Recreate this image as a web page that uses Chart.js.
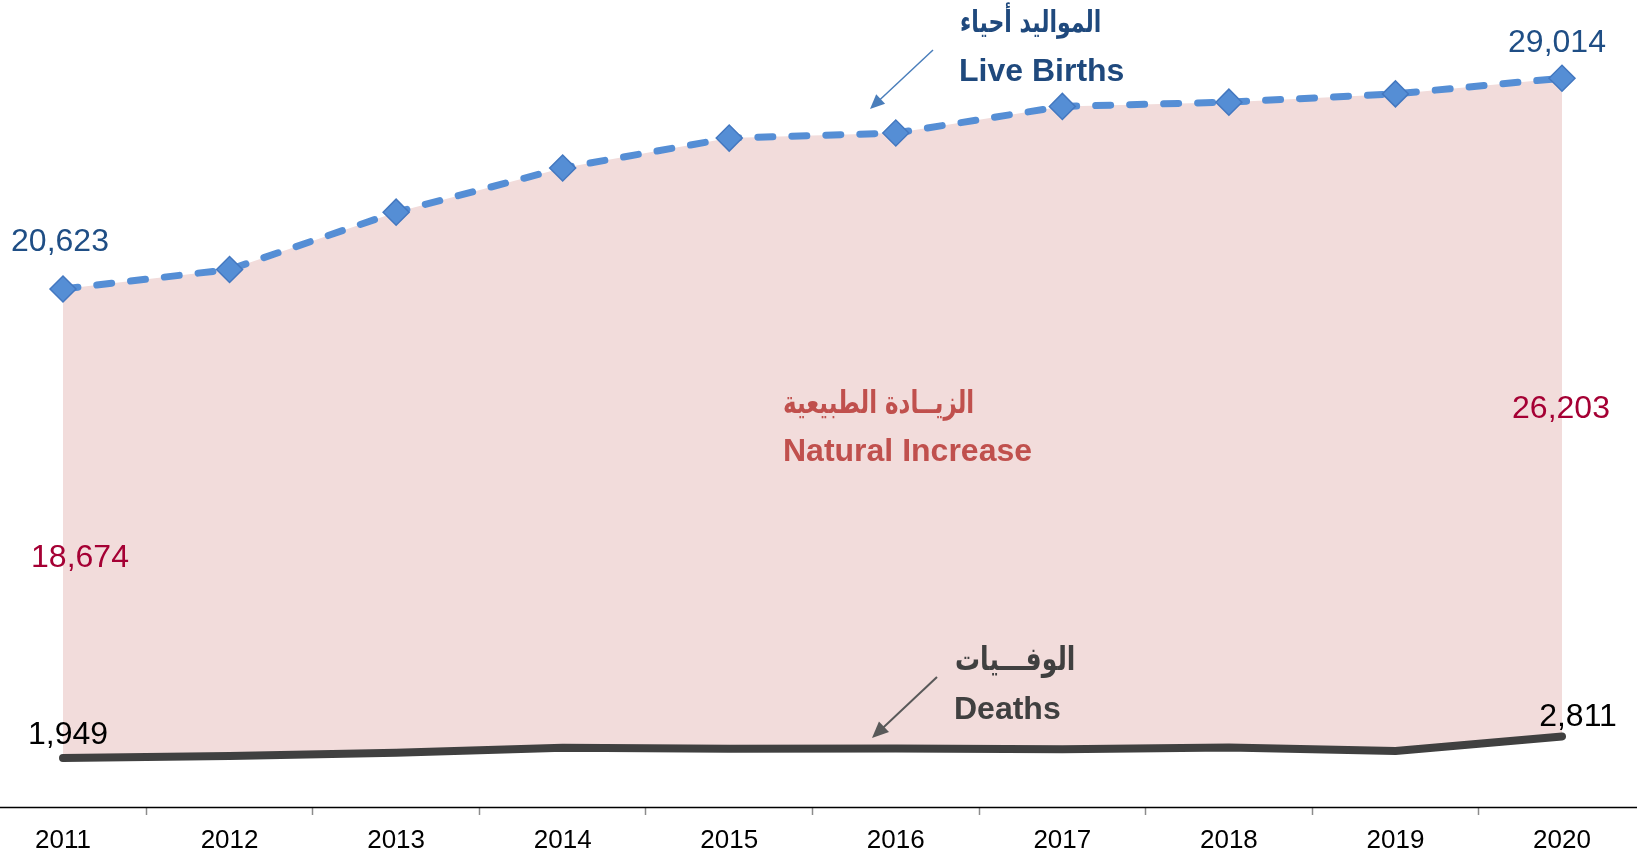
<!DOCTYPE html>
<html lang="ar">
<head>
<meta charset="UTF-8">
<title>Live Births, Deaths and Natural Increase 2011-2020</title>
<script src="https://cdn.jsdelivr.net/npm/chart.js"></script>
<style>
  html, body { margin: 0; padding: 0; background: #fff; }
  .chart-box { width: 1637px; height: 857px; position: relative; }
</style>
</head>
<body>
<div class="chart-box"><canvas id="birthsChart"></canvas></div>
<script>
const years = ['2011', '2012', '2013', '2014', '2015', '2016', '2017', '2018', '2019', '2020'];
const liveBirths = [20623, 21400, 23680, 25440, 26630, 26830, 27890, 28060, 28390, 29014];
const deaths = [1949, 2030, 2160, 2360, 2320, 2330, 2300, 2370, 2230, 2811];

const LATIN = '"Liberation Sans", Arial, sans-serif';
const ARABIC = '"DejaVu Sans", "Noto Sans", sans-serif';

const fmt = n => n.toLocaleString('en-US');

// arabic text: fit to the source width, then stretch a bit in height
function arabicText(ctx, text, x, y, width, weight, stretch) {
  ctx.font = weight + ' 30px ' + ARABIC;
  const w = ctx.measureText(text).width;
  const size = Math.max(10, Math.round(30 * width / w));
  ctx.font = weight + ' ' + size + 'px ' + ARABIC;
  ctx.save();
  ctx.translate(x, y);
  ctx.scale(1, stretch);
  ctx.fillText(text, 0, 0);
  ctx.restore();
}

function arrow(ctx, x1, y1, x2, y2, color, lw, head) {
  const a = Math.atan2(y2 - y1, x2 - x1);
  ctx.save();
  ctx.strokeStyle = color;
  ctx.fillStyle = color;
  ctx.lineWidth = lw;
  ctx.beginPath();
  ctx.moveTo(x1, y1);
  ctx.lineTo(x2 - Math.cos(a) * head * 0.8, y2 - Math.sin(a) * head * 0.8);
  ctx.stroke();
  ctx.beginPath();
  ctx.moveTo(x2, y2);
  ctx.lineTo(x2 - head * Math.cos(a - 0.42), y2 - head * Math.sin(a - 0.42));
  ctx.lineTo(x2 - head * Math.cos(a + 0.42), y2 - head * Math.sin(a + 0.42));
  ctx.closePath();
  ctx.fill();
  ctx.restore();
}

// full-width baseline under the plot
const baseLine = {
  id: 'baseLine',
  afterDatasetsDraw(chart) {
    const { ctx, chartArea } = chart;
    ctx.save();
    ctx.strokeStyle = '#000';
    ctx.lineWidth = 1.5;
    ctx.beginPath();
    ctx.moveTo(0, chartArea.bottom + 0.5);
    ctx.lineTo(chart.width, chartArea.bottom + 0.5);
    ctx.stroke();
    ctx.restore();
  }
};

const annotations = {
  id: 'annotations',
  afterDraw(chart) {
    const { ctx } = chart;
    const x = chart.scales.x, y = chart.scales.y;
    const last = years.length - 1;
    const x0 = x.getPixelForValue(0), xN = x.getPixelForValue(last);
    const b0 = y.getPixelForValue(liveBirths[0]), bN = y.getPixelForValue(liveBirths[last]);
    const d0 = y.getPixelForValue(deaths[0]), dN = y.getPixelForValue(deaths[last]);

    ctx.save();
    ctx.textBaseline = 'middle';
    ctx.textAlign = 'center';

    // value labels
    ctx.font = '32px ' + LATIN;
    ctx.fillStyle = '#1f4e85';
    ctx.fillText(fmt(liveBirths[0]), x0 - 3, b0 - 47);
    ctx.fillText(fmt(liveBirths[last]), xN - 5, bN - 35);
    ctx.fillStyle = '#000';
    ctx.fillText(fmt(deaths[0]), x0 + 5, d0 - 23);
    ctx.fillText(fmt(deaths[last]), xN + 16, dN - 19);
    ctx.fillStyle = '#a50034';
    ctx.fillText(fmt(liveBirths[0] - deaths[0]), x0 + 17, (b0 + d0) / 2 + 35);
    ctx.fillText(fmt(liveBirths[last] - deaths[last]), xN - 1, (bN + dN) / 2 + 2);

    // series titles
    ctx.textAlign = 'left';
    ctx.fillStyle = '#1f497d';
    arabicText(ctx, 'المواليد أحياء', 960, 24, 143, 'bold', 1.35);
    ctx.font = 'bold 32px ' + LATIN;
    ctx.fillText('Live Births', 959, 72);

    ctx.fillStyle = '#c0504d';
    arabicText(ctx, 'الزيــادة الطبيعية', 783, 405, 191, 'bold', 1.35);
    ctx.font = 'bold 32px ' + LATIN;
    ctx.fillText('Natural Increase', 783, 452);

    ctx.fillStyle = '#404040';
    arabicText(ctx, 'الوفـــيات', 955, 662, 121, 'bold', 1.3);
    ctx.font = 'bold 32px ' + LATIN;
    ctx.fillText('Deaths', 954, 710);
    ctx.restore();

    arrow(ctx, 933, 50, 870, 109, '#4a7ebb', 1.5, 16);
    arrow(ctx, 937, 677, 872, 738, '#595959', 2, 18);
  }
};

new Chart(document.getElementById('birthsChart'), {
  type: 'line',
  data: {
    labels: years,
    datasets: [
      {
        label: 'Live Births',
        data: liveBirths,
        borderColor: '#558ed5',
        borderWidth: 7,
        borderDash: [15, 19],
        borderCapStyle: 'round',
        fill: '+1',
        backgroundColor: '#f2dcdb',
        tension: 0,
        pointStyle: 'rectRot',
        pointRadius: 13,
        pointBackgroundColor: '#558ed5',
        pointBorderColor: '#4478c0',
        pointBorderWidth: 1.5
      },
      {
        label: 'Deaths',
        data: deaths,
        borderColor: '#404040',
        borderWidth: 8,
        borderCapStyle: 'round',
        borderJoinStyle: 'round',
        fill: false,
        tension: 0,
        pointRadius: 0
      }
    ]
  },
  options: {
    responsive: true,
    maintainAspectRatio: false,
    animation: false,
    layout: { padding: { left: 63, right: 75, top: 2, bottom: 0 } },
    plugins: {
      legend: { display: false },
      tooltip: { enabled: false },
      filler: { drawTime: 'beforeDatasetsDraw' }
    },
    scales: {
      x: {
        offset: false,
        border: { display: false },
        grid: {
          offset: true,
          drawOnChartArea: false,
          drawTicks: true,
          tickLength: 8,
          tickColor: '#8c8c8c',
          tickWidth: 1.5
        },
        ticks: {
          color: '#000',
          padding: 10,
          maxRotation: 0,
          font: { family: LATIN, size: 26 }
        },
        afterFit: s => { s.height = 50; }
      },
      y: {
        display: false,
        min: 0,
        max: 31550
      }
    }
  },
  plugins: [baseLine, annotations]
});
</script>
</body>
</html>
